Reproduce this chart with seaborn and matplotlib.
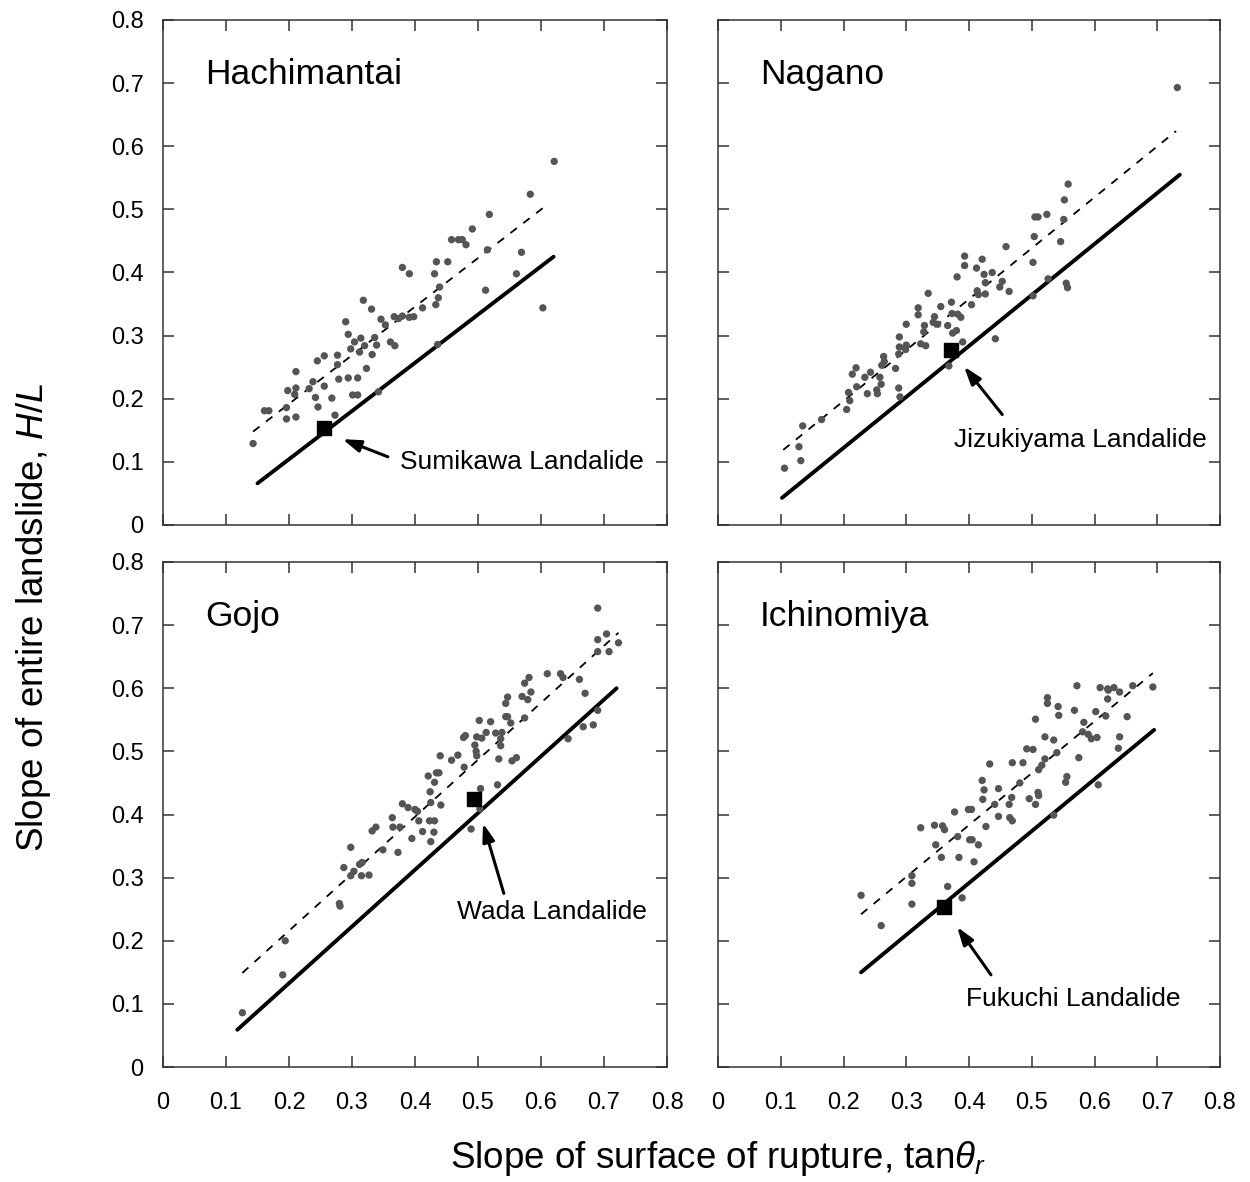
import numpy as np
import pandas as pd
import matplotlib
matplotlib.use("Agg")
import matplotlib.pyplot as plt
import seaborn as sns

# ── Setup ──────────────────────────────────────────────────────────────────────
sns.set_theme(style="ticks")
plt.rcParams.update({
    "font.family": ["Liberation Sans", "DejaVu Sans"],
    "mathtext.fontset": "custom",
    "mathtext.rm": "Liberation Sans",
    "mathtext.it": "Liberation Sans:italic",
    "text.color": "black",
    "axes.labelcolor": "black",
    "xtick.color": "black",
    "ytick.color": "black",
    "axes.edgecolor": "#333333",
    "axes.linewidth": 1.1,
})

# ── Data ───────────────────────────────────────────────────────────────────────
sites = ["Hachimantai", "Nagano", "Gojo", "Ichinomiya"]

hachi_x = [0.143, 0.161, 0.168, 0.196, 0.196, 0.211, 0.198, 0.211, 0.209, 0.211,
           0.232, 0.238, 0.242, 0.246, 0.245, 0.256, 0.256, 0.268, 0.273, 0.277,
           0.277, 0.279, 0.290, 0.294, 0.298, 0.294, 0.304, 0.301, 0.309, 0.309,
           0.314, 0.312, 0.318, 0.320, 0.323, 0.331, 0.336, 0.339, 0.332, 0.342,
           0.346, 0.353, 0.361, 0.368, 0.367, 0.374, 0.380, 0.391, 0.398, 0.380,
           0.391, 0.412, 0.431, 0.434, 0.452, 0.439, 0.437, 0.433, 0.436, 0.458,
           0.469, 0.475, 0.481, 0.491, 0.518, 0.515, 0.512, 0.561, 0.569, 0.583,
           0.603, 0.621]
hachi_y = [0.129, 0.181, 0.181, 0.186, 0.168, 0.171, 0.213, 0.217, 0.207, 0.243,
           0.216, 0.227, 0.202, 0.187, 0.260, 0.268, 0.220, 0.201, 0.174, 0.269,
           0.254, 0.231, 0.322, 0.302, 0.279, 0.233, 0.290, 0.206, 0.206, 0.233,
           0.296, 0.274, 0.356, 0.284, 0.248, 0.342, 0.297, 0.285, 0.270, 0.211,
           0.326, 0.317, 0.290, 0.284, 0.330, 0.327, 0.331, 0.329, 0.330, 0.408,
           0.398, 0.344, 0.398, 0.417, 0.417, 0.377, 0.360, 0.349, 0.286, 0.452,
           0.452, 0.452, 0.444, 0.469, 0.492, 0.436, 0.372, 0.398, 0.432, 0.524,
           0.344, 0.576]

nagano_x = [0.106, 0.132, 0.129, 0.135, 0.165, 0.205, 0.210, 0.208, 0.221, 0.214,
            0.220, 0.234, 0.238, 0.243, 0.254, 0.253, 0.258, 0.260, 0.261, 0.264,
            0.265, 0.283, 0.288, 0.290, 0.288, 0.289, 0.289, 0.299, 0.300, 0.300,
            0.319, 0.319, 0.323, 0.331, 0.328, 0.329, 0.335, 0.343, 0.350, 0.345,
            0.355, 0.366, 0.368, 0.372, 0.373, 0.374, 0.380, 0.382, 0.387, 0.381,
            0.393, 0.393, 0.390, 0.412, 0.421, 0.424, 0.426, 0.426, 0.413, 0.415,
            0.404, 0.437, 0.449, 0.453, 0.464, 0.459, 0.442, 0.502, 0.502, 0.504,
            0.505, 0.510, 0.524, 0.526, 0.546, 0.551, 0.552, 0.558, 0.555, 0.557,
            0.732]
nagano_y = [0.090, 0.102, 0.124, 0.157, 0.167, 0.183, 0.197, 0.210, 0.219, 0.239,
            0.249, 0.234, 0.208, 0.242, 0.208, 0.214, 0.234, 0.223, 0.253, 0.267,
            0.259, 0.248, 0.217, 0.203, 0.271, 0.282, 0.298, 0.278, 0.285, 0.318,
            0.333, 0.344, 0.287, 0.284, 0.306, 0.316, 0.367, 0.321, 0.318, 0.330,
            0.346, 0.316, 0.252, 0.353, 0.335, 0.304, 0.308, 0.334, 0.329, 0.393,
            0.411, 0.426, 0.290, 0.407, 0.421, 0.397, 0.384, 0.366, 0.371, 0.365,
            0.349, 0.400, 0.377, 0.386, 0.370, 0.441, 0.295, 0.363, 0.416, 0.457,
            0.488, 0.488, 0.492, 0.390, 0.449, 0.484, 0.515, 0.540, 0.383, 0.376,
            0.693]

gojo_x = [0.126, 0.190, 0.194, 0.280, 0.281, 0.287, 0.298, 0.298, 0.303, 0.312,
          0.316, 0.315, 0.327, 0.332, 0.338, 0.349, 0.364, 0.365, 0.376, 0.373,
          0.395, 0.380, 0.389, 0.400, 0.404, 0.406, 0.412, 0.421, 0.424, 0.425,
          0.425, 0.423, 0.431, 0.430, 0.431, 0.434, 0.438, 0.441, 0.440, 0.458,
          0.468, 0.478, 0.477, 0.480, 0.495, 0.497, 0.498, 0.498, 0.506, 0.502,
          0.513, 0.504, 0.503, 0.489, 0.520, 0.528, 0.538, 0.536, 0.536, 0.533,
          0.531, 0.544, 0.547, 0.544, 0.547, 0.552, 0.554, 0.561, 0.570, 0.574,
          0.579, 0.574, 0.581, 0.584, 0.610, 0.631, 0.635, 0.661, 0.670, 0.643,
          0.667, 0.683, 0.690, 0.690, 0.690, 0.690, 0.704, 0.708, 0.723]
gojo_y = [0.086, 0.146, 0.200, 0.259, 0.255, 0.316, 0.348, 0.303, 0.310, 0.321,
          0.324, 0.303, 0.304, 0.374, 0.380, 0.344, 0.395, 0.380, 0.380, 0.340,
          0.362, 0.417, 0.411, 0.408, 0.405, 0.390, 0.373, 0.461, 0.436, 0.419,
          0.357, 0.390, 0.390, 0.372, 0.451, 0.466, 0.466, 0.415, 0.493, 0.486,
          0.494, 0.475, 0.522, 0.525, 0.510, 0.500, 0.493, 0.523, 0.521, 0.549,
          0.530, 0.441, 0.409, 0.377, 0.547, 0.529, 0.530, 0.520, 0.509, 0.488,
          0.447, 0.555, 0.555, 0.576, 0.586, 0.545, 0.485, 0.490, 0.587, 0.553,
          0.582, 0.608, 0.617, 0.594, 0.623, 0.623, 0.617, 0.614, 0.592, 0.520,
          0.539, 0.542, 0.565, 0.727, 0.677, 0.658, 0.686, 0.658, 0.672]

ichi_x = [0.228, 0.260, 0.309, 0.309, 0.309, 0.323, 0.345, 0.358, 0.361, 0.347,
          0.356, 0.366, 0.377, 0.382, 0.384, 0.389, 0.399, 0.404, 0.401, 0.405,
          0.415, 0.408, 0.421, 0.424, 0.422, 0.433, 0.427, 0.441, 0.447, 0.447,
          0.464, 0.469, 0.468, 0.465, 0.469, 0.481, 0.486, 0.492, 0.502, 0.496,
          0.506, 0.506, 0.510, 0.511, 0.511, 0.516, 0.521, 0.521, 0.525, 0.525,
          0.535, 0.540, 0.542, 0.543, 0.535, 0.554, 0.556, 0.568, 0.572, 0.575,
          0.583, 0.581, 0.590, 0.595, 0.604, 0.602, 0.606, 0.609, 0.618, 0.621,
          0.622, 0.631, 0.621, 0.640, 0.640, 0.638, 0.652, 0.661, 0.693]
ichi_y = [0.272, 0.224, 0.303, 0.291, 0.258, 0.379, 0.383, 0.382, 0.376, 0.352,
          0.332, 0.286, 0.404, 0.365, 0.332, 0.268, 0.408, 0.408, 0.360, 0.360,
          0.352, 0.325, 0.454, 0.439, 0.424, 0.480, 0.381, 0.416, 0.441, 0.397,
          0.416, 0.482, 0.427, 0.395, 0.390, 0.450, 0.482, 0.504, 0.503, 0.425,
          0.551, 0.416, 0.435, 0.430, 0.471, 0.478, 0.488, 0.523, 0.585, 0.576,
          0.518, 0.498, 0.571, 0.557, 0.399, 0.451, 0.460, 0.565, 0.604, 0.490,
          0.546, 0.531, 0.527, 0.520, 0.522, 0.563, 0.447, 0.601, 0.556, 0.599,
          0.597, 0.601, 0.583, 0.594, 0.523, 0.505, 0.555, 0.604, 0.602]

# solid (lower bound) and dashed (mean) lines: x and y at both ends
solid_x = [[0.150, 0.620], [0.102, 0.736], [0.118, 0.720], [0.228, 0.695]]
solid_y = [[0.066, 0.425], [0.043, 0.555], [0.059, 0.600], [0.150, 0.534]]
dash_x = [[0.143, 0.608], [0.104, 0.730], [0.126, 0.723], [0.228, 0.693]]
dash_y = [[0.148, 0.506], [0.119, 0.624], [0.149, 0.688], [0.242, 0.624]]

# named landslides (black squares) and their labels
slide_names = ["Sumikawa Landalide", "Jizukiyama Landalide", "Wada Landalide", "Fukuchi Landalide"]
slide_x = [0.256, 0.371, 0.494, 0.360]
slide_y = [0.154, 0.277, 0.424, 0.253]
arrow_head = [(0.285, 0.136), (0.392, 0.251), (0.508, 0.386), (0.381, 0.222)]
arrow_tail = [(0.357, 0.108), (0.453, 0.175), (0.541, 0.275), (0.435, 0.146)]
label_pos = [(0.376, 0.100), (0.376, 0.135), (0.466, 0.245), (0.395, 0.108)]

points = [(hachi_x, hachi_y), (nagano_x, nagano_y), (gojo_x, gojo_y), (ichi_x, ichi_y)]

# ── Figure ─────────────────────────────────────────────────────────────────────
fig = plt.figure(figsize=(12.5, 11.82), dpi=100)
W, H = 1250, 1182
boxes = [(163, 20, 504, 505), (718, 20, 502, 505),
         (163, 562, 504, 505), (718, 562, 502, 505)]

ticks = np.round(np.arange(0, 0.81, 0.1), 1)
tick_labels = ["0"] + [f"{t:.1f}" for t in ticks[1:]]

for i, site in enumerate(sites):
    left, top, w, h = boxes[i]
    ax = fig.add_axes([left / W, 1 - (top + h) / H, w / W, h / H])
    df = pd.DataFrame({"x": points[i][0], "y": points[i][1]})

    sns.scatterplot(data=df, x="x", y="y", ax=ax, color="#555555", s=28,
                    edgecolor="none", zorder=3)
    sns.lineplot(x=dash_x[i], y=dash_y[i], ax=ax, color="black", lw=1.3,
                 dashes=(4.5, 4.5), zorder=2)
    sns.lineplot(x=solid_x[i], y=solid_y[i], ax=ax, color="black", lw=2.8,
                 zorder=2)
    ax.scatter([slide_x[i]], [slide_y[i]], marker="s", s=115, color="black", zorder=4)
    ax.annotate("", xy=arrow_head[i], xytext=arrow_tail[i],
                arrowprops=dict(arrowstyle="-|>,head_length=0.9,head_width=0.3",
                                color="black", lw=2.2, shrinkA=0, shrinkB=0))
    ax.text(label_pos[i][0], label_pos[i][1], slide_names[i], fontsize=19,
            va="center", ha="left")
    ax.text(0.067, 0.713, site, fontsize=25.5, va="center", ha="left")

    ax.set_xlim(0, 0.8)
    ax.set_ylim(0, 0.8)
    ax.set_xticks(ticks)
    ax.set_yticks(ticks)
    ax.tick_params(direction="in", length=8, width=1.1, color="#333333",
                   top=True, right=True, labelsize=17)
    ax.tick_params(axis="x", pad=18)
    ax.tick_params(axis="y", pad=14)
    if i < 2:
        ax.set_xticklabels([])
    else:
        ax.set_xticklabels(tick_labels)
    if i % 2 == 1:
        ax.set_yticklabels([])
    else:
        ax.set_yticklabels(tick_labels)
    ax.set_xlabel("")
    ax.set_ylabel("")

fig.text(0.574, 0.020, r"Slope of surface of rupture, tan$\theta_r$",
         fontsize=26.5, ha="center", va="center")
fig.text(0.027, 0.478, r"Slope of entire landslide, $H/L$",
         fontsize=26.5, ha="center", va="center", rotation=90)

plt.savefig("out.png", dpi=100)
plt.close()
